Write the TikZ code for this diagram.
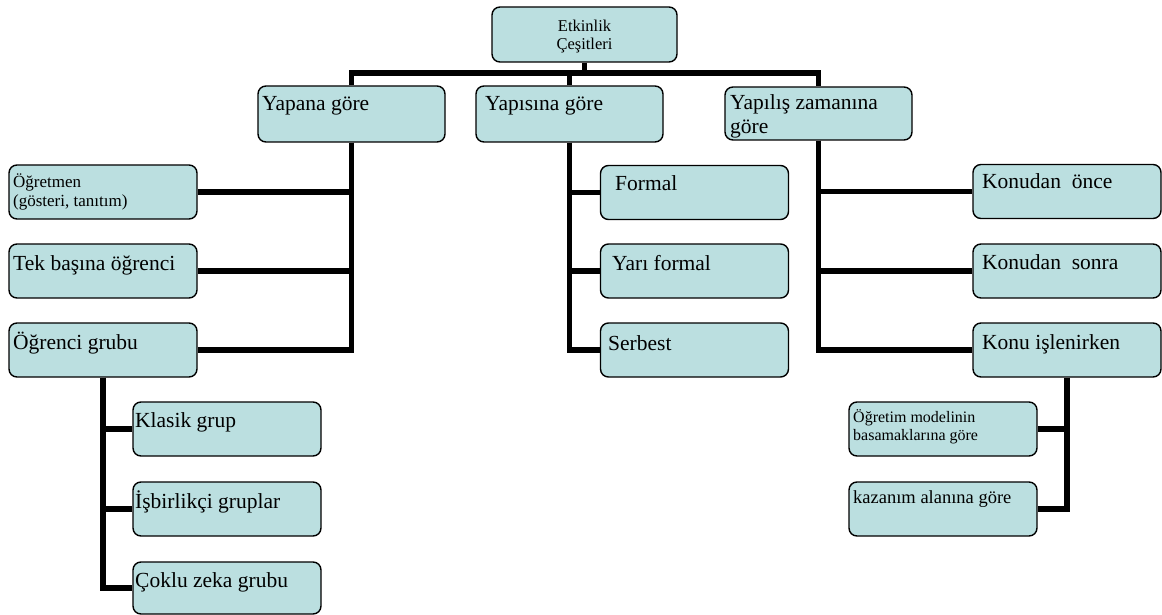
\documentclass[tikz,border=0pt]{standalone}
\usepackage{fontspec}
\setmainfont{Liberation Serif}
\definecolor{boxfill}{HTML}{BBDFE0}
\begin{document}
\begin{tikzpicture}[x=1pt,y=-1pt,
  box/.style={draw=black, line width=1.4pt, fill=boxfill, rounded corners=8pt,
    minimum width=188pt, minimum height=54pt, inner sep=0pt},
  conn/.style={draw=black, line width=5.5pt, line join=miter},
  txt/.style={anchor=base west, inner sep=0pt, font=\fontsize{21.5}{24}\selectfont},
  txtsmall/.style={anchor=base west, inner sep=0pt, font=\fontsize{17}{19}\selectfont},
  txttiny/.style={anchor=base west, inner sep=0pt, font=\fontsize{16}{18}\selectfont},
  txttop/.style={anchor=base, inner sep=0pt, font=\fontsize{16.5}{18}\selectfont},
  txtmid/.style={anchor=base west, inner sep=0pt, font=\fontsize{18.5}{21}\selectfont}]
\useasboundingbox (0,0) rectangle (1162,615);

% boxes
\node[box, minimum width=185pt, minimum height=55pt] (top) at (584.5,34.5) {};
\node[box, minimum width=187pt, minimum height=56pt] (b1) at (351.5,114) {};
\node[box, minimum width=187pt, minimum height=56pt] (b2) at (569.5,114) {};
\node[box, minimum width=187pt, minimum height=53pt] (b3) at (818.5,113.5) {};

\node[box] (l1) at (103,192) {};
\node[box] (l2) at (103,271) {};
\node[box] (l3) at (103,350) {};

\node[box] (m1) at (694.5,192.5) {};
\node[box] (m2) at (694.5,271) {};
\node[box] (m3) at (694.5,350) {};

\node[box] (r1) at (1067,191.5) {};
\node[box] (r2) at (1067,271) {};
\node[box] (r3) at (1067,350) {};

\node[box] (s1) at (227,429) {};
\node[box] (s2) at (227,509) {};
\node[box, minimum height=52pt] (s3) at (227,588) {};

\node[box] (k1) at (943,429) {};
\node[box] (k2) at (943,509) {};

% texts
\node[txttop] (tta) at (584.5,32) {Etkinlik};
\node[txttop] (ttb) at (584.5,50) {Çeşitleri};

\node[txt] (tb1) at (262,111) {Yapana göre};
\node[txt] (tb2) at (485,111) {Yapısına göre};
\node[txt] (tb3a) at (730,110) {Yapılış zamanına};
\node[txt] (tb3b) at (730,134) {göre};

\node[txtsmall] (tl1a) at (13,187) {Öğretmen};
\node[txtsmall] (tl1b) at (13,206) {(gösteri, tanıtım)};
\node[txt] (tl2) at (13,270) {Tek başına öğrenci};
\node[txt] (tl3) at (13,349) {Öğrenci grubu};

\node[txt] (tm1) at (615,190) {Formal};
\node[txt] (tm2) at (612,270) {Yarı formal};
\node[txt] (tm3) at (608,350) {Serbest};

\node[txt] (tr1) at (982,189) {Konudan\ \ önce};
\node[txt] (tr2) at (982,269) {Konudan\ \ sonra};
\node[txt] (tr3) at (982,349) {Konu işlenirken};

\node[txt] (ts1) at (135,427) {Klasik grup};
\node[txt] (ts2) at (135,508) {İşbirlikçi gruplar};
\node[txt] (ts3) at (135,587) {Çoklu zeka grubu};

\node[txttiny] (tk1a) at (853,422) {Öğretim modelinin};
\node[txttiny] (tk1b) at (853,440) {basamaklarına göre};
\node[txtmid] (tk2) at (853,503) {kazanım alanına göre};

% connectors
\coordinate (bar) at (0,73);
\draw[conn] (top.south) -- (top.south |- bar);
\draw[conn] (b1.north) -- (b1.north |- bar) -- (b3.north |- bar) -- (b3.north);
\draw[conn] (b2.north) -- (b2.north |- bar);

\draw[conn] (b1.south) |- (l3.east);
\draw[conn] (b1.south) |- (l1.east);
\draw[conn] (b1.south) |- (l2.east);

\draw[conn] (b2.south) |- (m3.west);
\draw[conn] (b2.south) |- (m1.west);
\draw[conn] (b2.south) |- (m2.west);

\draw[conn] (b3.south) |- (r3.west);
\draw[conn] (b3.south) |- (r1.west);
\draw[conn] (b3.south) |- (r2.west);

\draw[conn] (l3.south) |- (s3.west);
\draw[conn] (l3.south) |- (s1.west);
\draw[conn] (l3.south) |- (s2.west);

\draw[conn] (r3.south) |- (k2.east);
\draw[conn] (r3.south) |- (k1.east);
\end{tikzpicture}
\end{document}
